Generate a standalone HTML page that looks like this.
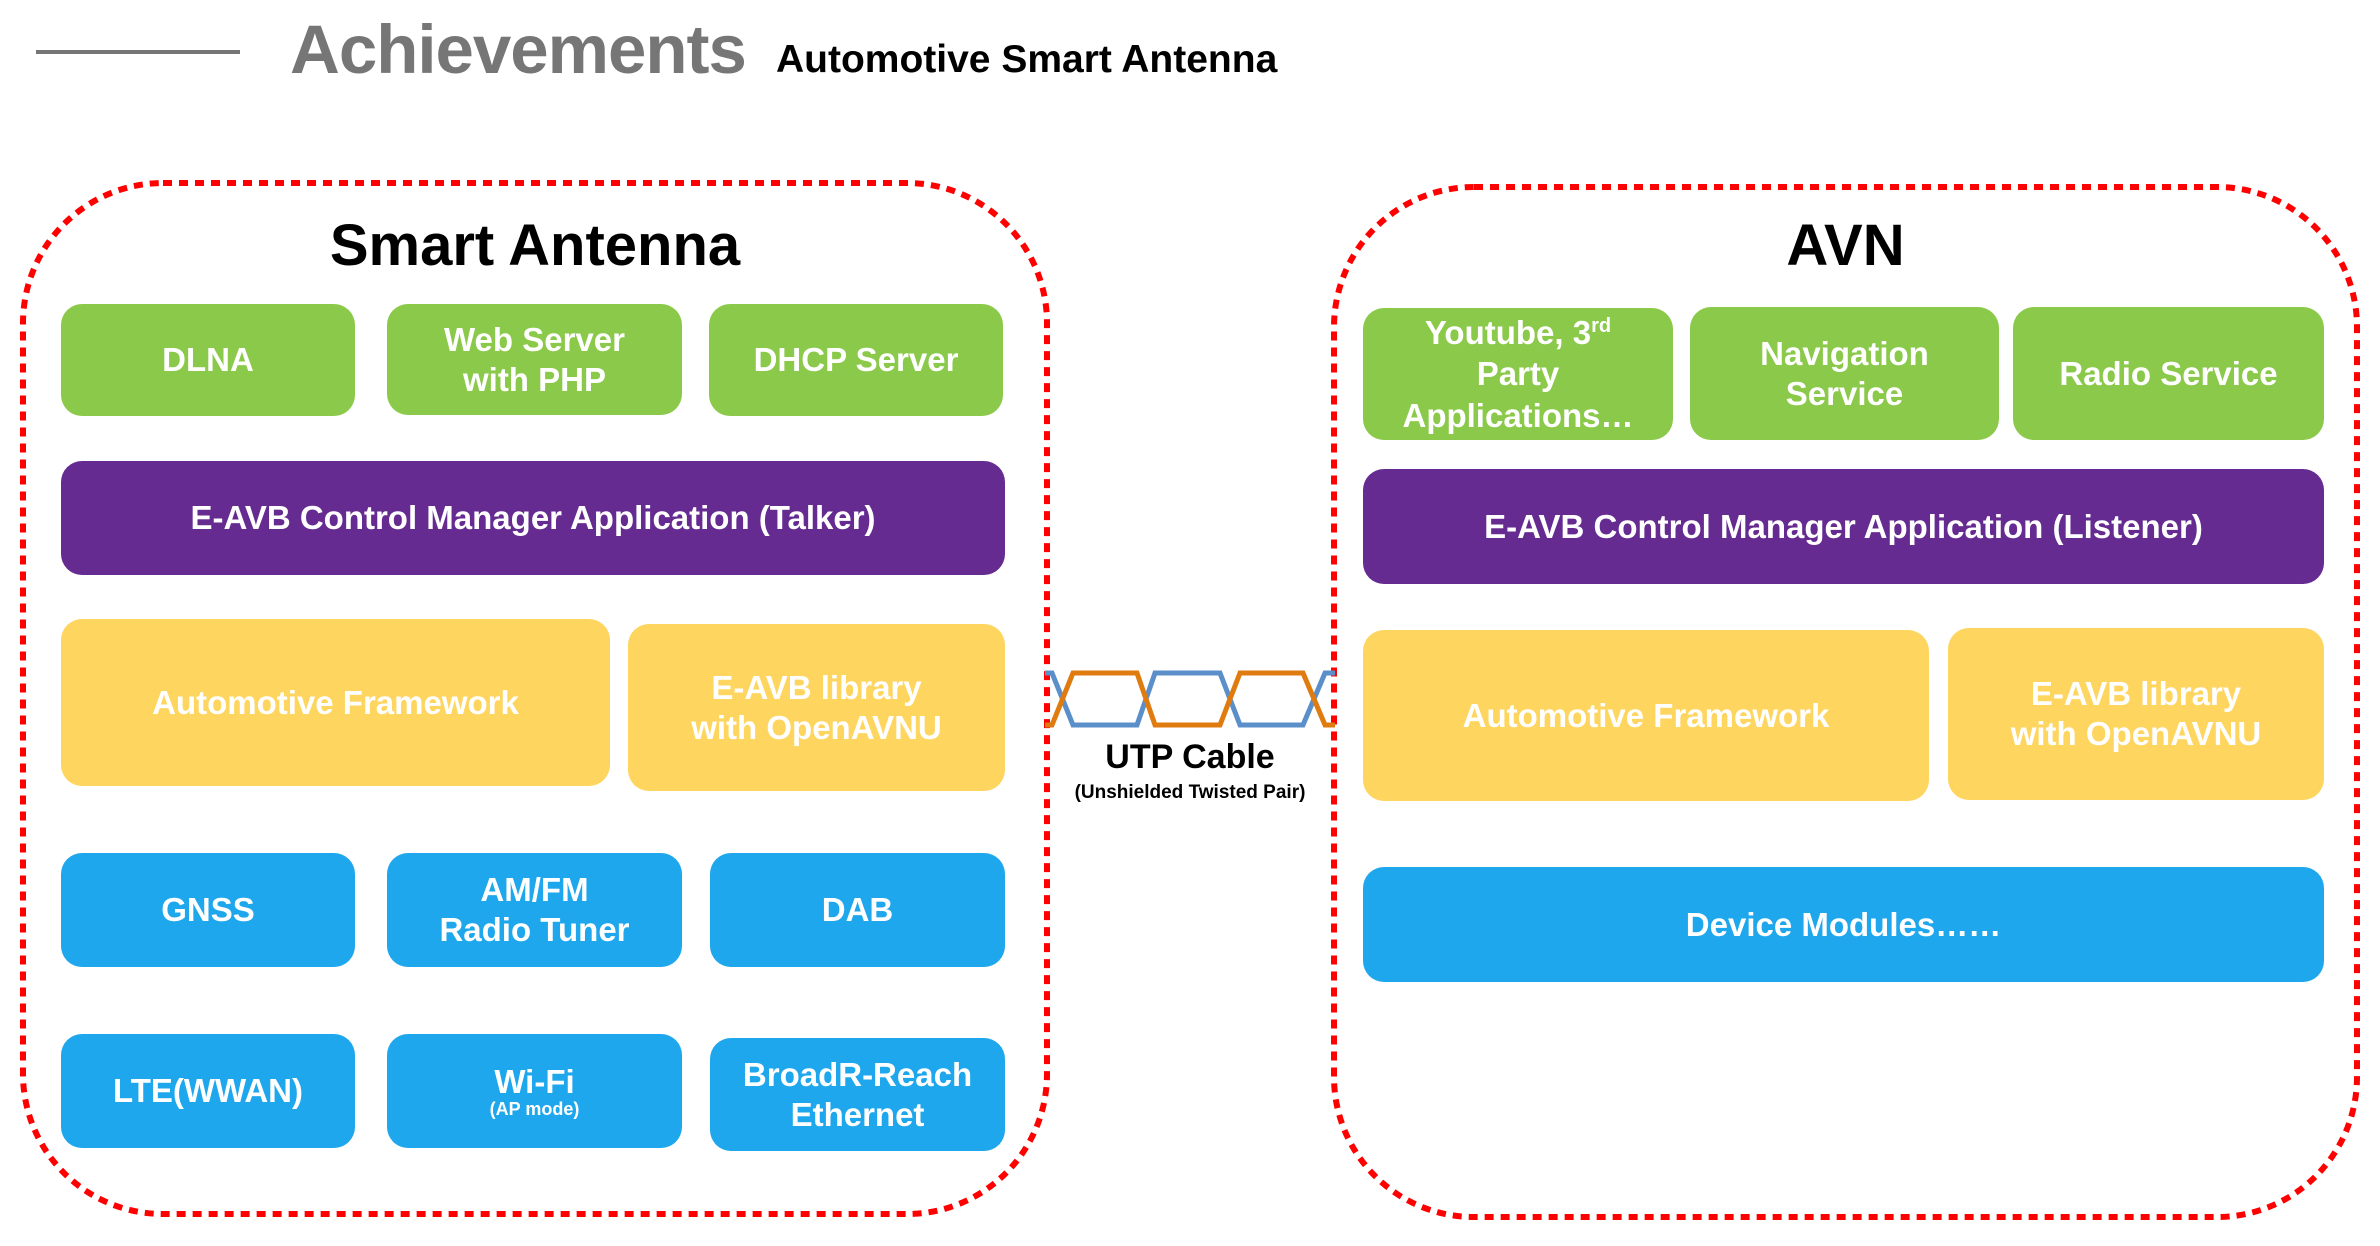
<!DOCTYPE html>
<html><head><meta charset="utf-8"><style>
body{margin:0;width:2380px;height:1246px;background:#fff;position:relative;overflow:hidden;font-family:"Liberation Sans","Noto Sans CJK KR",sans-serif;}
.b{position:absolute;border-radius:21px;color:#fff;font-weight:bold;font-size:33px;display:flex;align-items:center;justify-content:center;text-align:center;line-height:1.2;}
.g{background:#8BC94A}.p{background:#652B91}.y{background:#FED55E}.u{background:#1EA7EC}
.t{position:absolute;font-weight:bold;}
</style></head><body>
<div style="position:absolute;left:36px;top:50px;width:204px;height:4px;background:#767676"></div>
<div class="t" style="left:290px;top:10px;font-size:69px;color:#767676;letter-spacing:-1px">Achievements</div>
<div class="t" style="left:776px;top:38px;font-size:39px;color:#000">Automotive Smart Antenna</div>

<svg style="position:absolute;left:0;top:0" width="2380" height="1246">
<rect x="23" y="183" width="1024" height="1031" rx="140" fill="none" stroke="#f00" stroke-width="6" stroke-dasharray="9 7"/>
<rect x="1334" y="187" width="1023" height="1030" rx="140" fill="none" stroke="#f00" stroke-width="6" stroke-dasharray="9 7"/>
<polyline points="1045,673 1052,673 1073,725 1137,725 1155,673 1220,673 1240,725 1303,725 1325,673 1335,673" fill="none" stroke="#5B8FC9" stroke-width="5"/>
<polyline points="1045,725 1052,725 1073,673 1137,673 1155,725 1220,725 1240,673 1303,673 1325,725 1335,725" fill="none" stroke="#E07B10" stroke-width="5"/>
</svg>
<div class="t" style="left:1045px;width:290px;text-align:center;top:738px;font-size:34px">UTP Cable</div>
<div class="t" style="left:1040px;width:300px;text-align:center;top:782px;font-size:19px">(Unshielded Twisted Pair)</div>

<div class="t" style="left:23px;width:1024px;text-align:center;top:212px;font-size:58px">Smart Antenna</div>
<div class="t" style="left:1334px;width:1023px;text-align:center;top:212px;font-size:58px">AVN</div>

<div class="b g" style="left:61px;top:304px;width:294px;height:112px"><div>DLNA</div></div>
<div class="b g" style="left:387px;top:304px;width:295px;height:111px"><div>Web Server<br>with PHP</div></div>
<div class="b g" style="left:709px;top:304px;width:294px;height:112px"><div>DHCP Server</div></div>
<div class="b p" style="left:61px;top:461px;width:944px;height:114px"><div>E-AVB Control Manager Application (Talker)</div></div>
<div class="b y" style="left:61px;top:619px;width:549px;height:167px"><div>Automotive Framework</div></div>
<div class="b y" style="left:628px;top:624px;width:377px;height:167px"><div>E-AVB library<br>with OpenAVNU</div></div>
<div class="b u" style="left:61px;top:853px;width:294px;height:114px"><div>GNSS</div></div>
<div class="b u" style="left:387px;top:853px;width:295px;height:114px"><div>AM/FM<br>Radio Tuner</div></div>
<div class="b u" style="left:710px;top:853px;width:295px;height:114px"><div>DAB</div></div>
<div class="b u" style="left:61px;top:1034px;width:294px;height:114px"><div>LTE(WWAN)</div></div>
<div class="b u" style="left:387px;top:1034px;width:295px;height:114px"><div style="line-height:1.1">Wi-Fi<div style="font-size:18px;line-height:1">(AP mode)</div></div></div>
<div class="b u" style="left:710px;top:1038px;width:295px;height:113px"><div>BroadR-Reach<br>Ethernet</div></div>

<div class="b g" style="left:1363px;top:308px;width:310px;height:132px"><div style="line-height:1.25">Youtube, 3<span style="font-size:20px;vertical-align:super;line-height:0">rd</span><br>Party<br>Applications…</div></div>
<div class="b g" style="left:1690px;top:307px;width:309px;height:133px"><div>Navigation<br>Service</div></div>
<div class="b g" style="left:2013px;top:307px;width:311px;height:133px"><div>Radio Service</div></div>
<div class="b p" style="left:1363px;top:469px;width:961px;height:115px"><div>E-AVB Control Manager Application (Listener)</div></div>
<div class="b y" style="left:1363px;top:630px;width:566px;height:171px"><div>Automotive Framework</div></div>
<div class="b y" style="left:1948px;top:628px;width:376px;height:172px"><div>E-AVB library<br>with OpenAVNU</div></div>
<div class="b u" style="left:1363px;top:867px;width:961px;height:115px"><div>Device Modules……</div></div>
</body></html>
